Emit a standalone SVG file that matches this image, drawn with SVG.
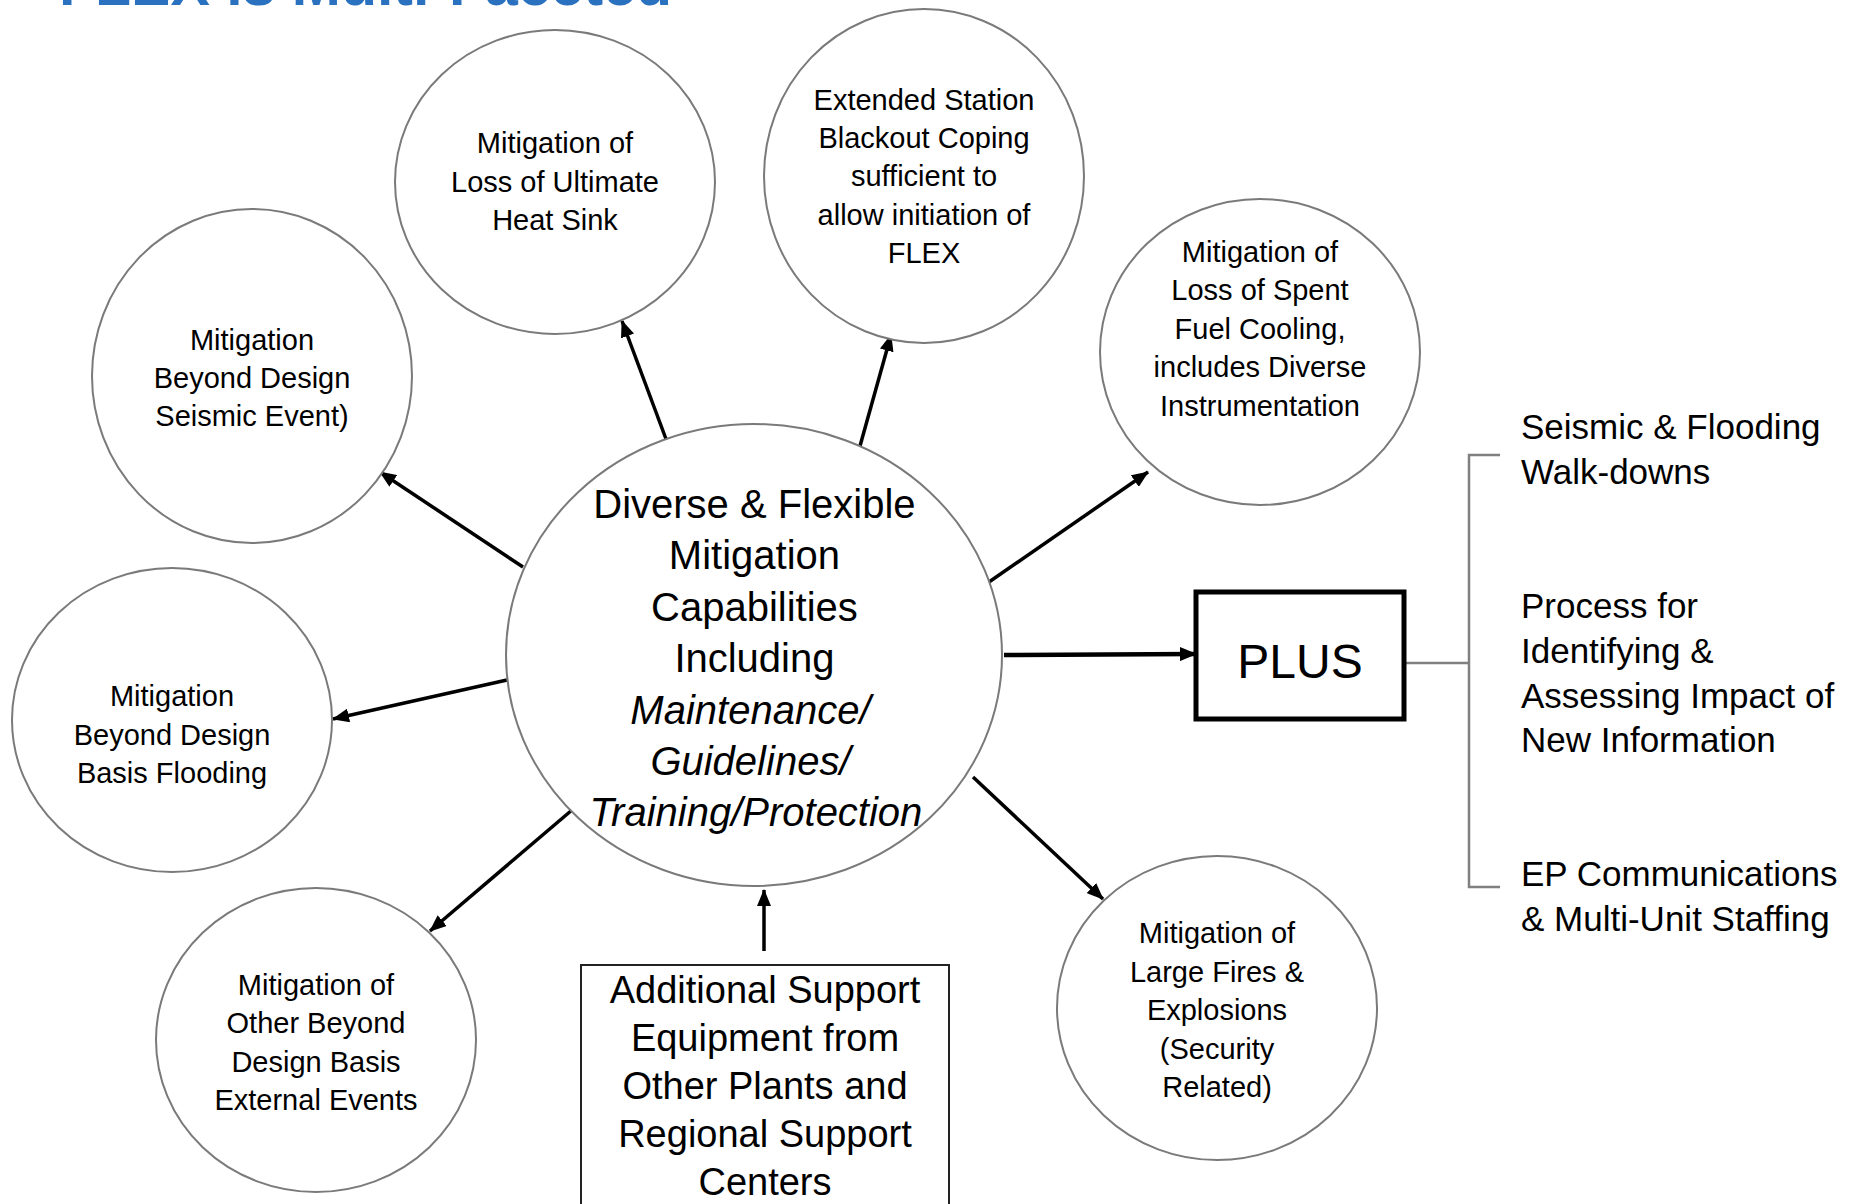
<svg xmlns="http://www.w3.org/2000/svg" width="1860" height="1204" viewBox="0 0 1860 1204">
<style>
.c{fill:#fff;stroke:#7a7a7a;stroke-width:2}
.t{font-family:"Liberation Sans",Arial,sans-serif;fill:#000;text-anchor:middle}
.s{font-size:29px}
.r{font-family:"Liberation Sans",Arial,sans-serif;fill:#000;font-size:35px}
.a{stroke:#000;stroke-width:3.5;fill:none;marker-end:url(#ah)}
</style>
<defs>
<marker id="ah" markerUnits="userSpaceOnUse" markerWidth="17" markerHeight="14" refX="16" refY="7" orient="auto">
<path d="M0,0 L17,7 L0,14 z" fill="#000"/>
</marker>
</defs>
<rect width="1860" height="1204" fill="#fff"/>
<text x="59" y="5" font-family="Liberation Sans,Arial,sans-serif" font-weight="bold" font-size="59" fill="#2A71BF">FLEX is Multi-Faceted</text>

<g id="connectors">
<line class="a" x1="666" y1="439" x2="622" y2="321"/>
<line class="a" x1="860" y1="446" x2="891" y2="335"/>
<line class="a" x1="989" y1="582" x2="1148" y2="472"/>
<line class="a" x1="523" y1="567" x2="380" y2="472"/>
<line class="a" x1="507" y1="680" x2="333" y2="719"/>
<line class="a" x1="572" y1="810" x2="430" y2="931"/>
<line class="a" x1="973" y1="777" x2="1103" y2="899"/>
<line class="a" style="stroke-width:4.5" x1="1004" y1="655" x2="1196" y2="654"/>
<line class="a" x1="764" y1="951" x2="764" y2="890"/>
<path d="M1405,663 H1469 M1500,455 H1469 V887 H1500" fill="none" stroke="#808080" stroke-width="2.5"/>
</g>

<g id="center">
<ellipse class="c" cx="754" cy="655" rx="248" ry="231"/>
<text class="t" font-size="40">
<tspan x="760" y="518">Diverse &amp; Flexible</tspan>
<tspan x="760" y="569">Mitigation</tspan>
<tspan x="760" y="621">Capabilities</tspan>
<tspan x="760" y="672">Including</tspan>
<tspan x="756" y="724" font-style="italic">Maintenance/</tspan>
<tspan x="756" y="775" font-style="italic">Guidelines/</tspan>
<tspan x="756" y="826" font-style="italic">Training/Protection</tspan>
</text>
</g>

<g id="heatsink">
<ellipse class="c" cx="555" cy="182" rx="160" ry="152"/>
<text class="t s"><tspan x="555" y="153">Mitigation of</tspan><tspan x="555" y="192">Loss of Ultimate</tspan><tspan x="555" y="230">Heat Sink</tspan></text>
</g>

<g id="blackout">
<ellipse class="c" cx="924" cy="176" rx="160" ry="167"/>
<text class="t s"><tspan x="924" y="110">Extended Station</tspan><tspan x="924" y="148">Blackout Coping</tspan><tspan x="924" y="186">sufficient to</tspan><tspan x="924" y="225">allow initiation of</tspan><tspan x="924" y="263">FLEX</tspan></text>
</g>

<g id="spentfuel">
<ellipse class="c" cx="1260" cy="352" rx="160" ry="153"/>
<text class="t s"><tspan x="1260" y="262">Mitigation of</tspan><tspan x="1260" y="300">Loss of Spent</tspan><tspan x="1260" y="339">Fuel Cooling,</tspan><tspan x="1260" y="377">includes Diverse</tspan><tspan x="1260" y="416">Instrumentation</tspan></text>
</g>

<g id="seismic">
<ellipse class="c" cx="252" cy="376" rx="160" ry="167"/>
<text class="t s"><tspan x="252" y="350">Mitigation</tspan><tspan x="252" y="388">Beyond Design</tspan><tspan x="252" y="426">Seismic Event)</tspan></text>
</g>

<g id="flooding">
<ellipse class="c" cx="172" cy="720" rx="160" ry="152"/>
<text class="t s"><tspan x="172" y="706">Mitigation</tspan><tspan x="172" y="745">Beyond Design</tspan><tspan x="172" y="783">Basis Flooding</tspan></text>
</g>

<g id="external">
<ellipse class="c" cx="316" cy="1040" rx="160" ry="152"/>
<text class="t s"><tspan x="316" y="995">Mitigation of</tspan><tspan x="316" y="1033">Other Beyond</tspan><tspan x="316" y="1072">Design Basis</tspan><tspan x="316" y="1110">External Events</tspan></text>
</g>

<g id="fires">
<ellipse class="c" cx="1217" cy="1008" rx="160" ry="152"/>
<text class="t s"><tspan x="1217" y="943">Mitigation of</tspan><tspan x="1217" y="982">Large Fires &amp;</tspan><tspan x="1217" y="1020">Explosions</tspan><tspan x="1217" y="1059">(Security</tspan><tspan x="1217" y="1097">Related)</tspan></text>
</g>

<g id="plus">
<rect x="1196" y="592" width="208" height="127" fill="#fff" stroke="#000" stroke-width="5"/>
<text class="t" font-size="48" x="1300" y="678">PLUS</text>
</g>

<g id="support">
<rect x="581" y="965" width="368" height="260" fill="#fff" stroke="#222" stroke-width="2"/>
<text class="t" font-size="38"><tspan x="765" y="1003">Additional Support</tspan><tspan x="765" y="1051">Equipment from</tspan><tspan x="765" y="1099">Other Plants and</tspan><tspan x="765" y="1147">Regional Support</tspan><tspan x="765" y="1195">Centers</tspan></text>
</g>

<g id="items">
<text class="r"><tspan x="1521" y="439">Seismic &amp; Flooding</tspan><tspan x="1521" y="484">Walk-downs</tspan></text>
<text class="r"><tspan x="1521" y="618">Process for</tspan><tspan x="1521" y="663">Identifying &amp;</tspan><tspan x="1521" y="708">Assessing Impact of</tspan><tspan x="1521" y="752">New Information</tspan></text>
<text class="r"><tspan x="1521" y="886">EP Communications</tspan><tspan x="1521" y="931">&amp; Multi-Unit Staffing</tspan></text>
</g>
</svg>
